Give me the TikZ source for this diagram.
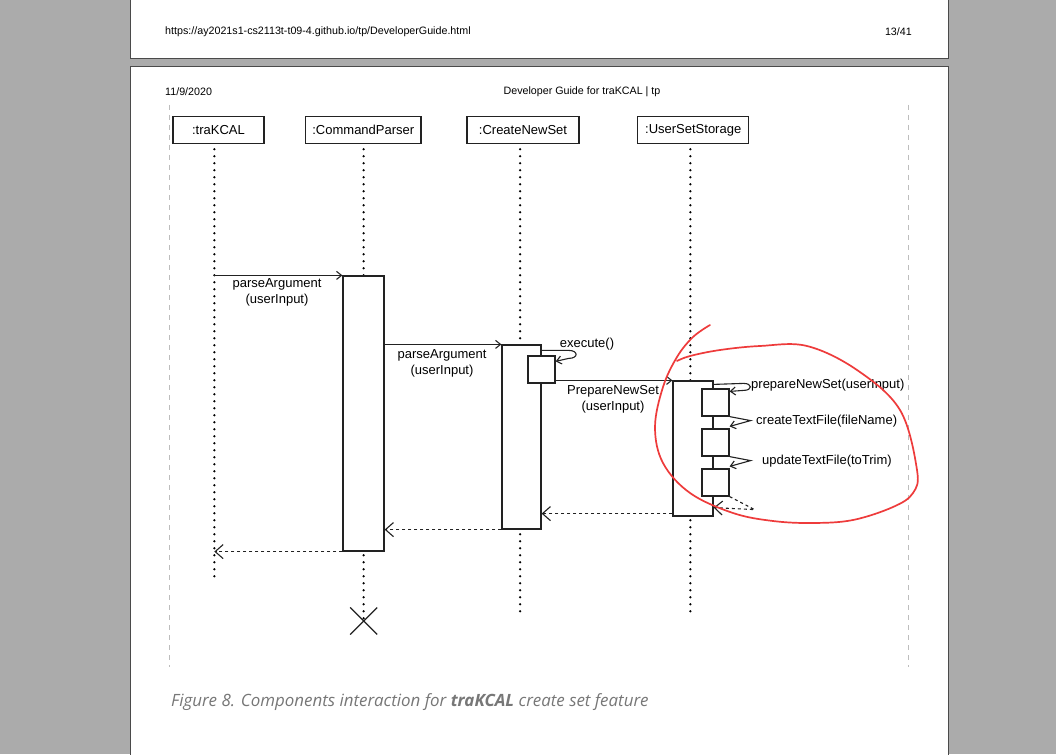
\documentclass[tikz,border=0pt]{standalone}
\usepackage{fontspec}
\setmainfont{Liberation Sans}
\newfontfamily\capfont{Open Sans}
\usetikzlibrary{arrows.meta,calc}
\definecolor{bggray}{HTML}{ABABAB}
\definecolor{edgegray}{HTML}{4A4A4A}
\definecolor{guidegray}{HTML}{BDBDBD}
\definecolor{pen}{HTML}{EE3B3B}
\definecolor{capgray}{HTML}{777777}
\definecolor{ink}{HTML}{222222}
\tikzset{
  head/.style={draw=ink, line width=1.5pt, fill=white, inner sep=0pt, font=\fontsize{13}{16}\selectfont},
  act/.style={draw=ink, line width=1.2pt, fill=white, inner sep=0pt},
  life/.style={draw=black, line width=2.5pt, line cap=round, dash pattern=on 0pt off 7pt},
  msg/.style={draw=ink, line width=1.1pt, -{Straight Barb[length=5pt,width=8pt]}},
  ret/.style={draw=ink, line width=1.1pt, dash pattern=on 3pt off 3pt, -{Straight Barb[length=8pt,width=14pt]}},
  lbl/.style={inner sep=0pt, font=\fontsize{13}{16}\selectfont, align=center},
  guide/.style={draw=guidegray, line width=1pt, dash pattern=on 5pt off 5pt},
  hdr/.style={inner sep=0pt, font=\fontsize{10.7}{12}\selectfont}
}
\begin{document}
\begin{tikzpicture}[x=1pt,y=-1pt]
\useasboundingbox (0,0) rectangle (1056,754);
\fill[bggray] (0,0) rectangle (1056,754);
% pages
\draw[edgegray, line width=1pt, fill=white] (130,-5) rectangle (948,59);
\draw[edgegray, line width=1pt, fill=white] (130,67) rectangle (948,760);
% headers
\node[hdr, anchor=west] (url) at (165,32) {https://ay2021s1-cs2113t-t09-4.github.io/tp/DeveloperGuide.html};
\node[hdr, anchor=east] (pg) at (912,32) {13/41};
\node[hdr, anchor=west] (date) at (165,92) {11/9/2020};
\node[hdr] (title) at (582,92) {Developer Guide for traKCAL | tp};
% frame guides
\coordinate (gl1) at (169,105); \coordinate (gl2) at (169,667);
\coordinate (gr1) at (908,105); \coordinate (gr2) at (908,667);
\draw[guide] (gl1) -- (gl2);
\draw[guide] (gr1) -- (gr2);
% lifeline ends
\coordinate (tkend) at (214.3,582);
\coordinate (cpend) at (363.7,621);
\coordinate (cnend) at (520,617);
\coordinate (usend) at (690.3,617);
% heads
\node[head, minimum width=91pt, minimum height=27pt] (tk) at (218.5,130) {:traKCAL};
\node[head, minimum width=115.5pt, minimum height=27pt] (cp) at (363.3,130) {:CommandParser};
\node[head, minimum width=112pt, minimum height=27pt] (cn) at (523,130) {:CreateNewSet};
\node[head, minimum width=111pt, minimum height=27pt] (us) at (693.2,130) {:UserSetStorage};
% lifelines
\draw[life] ([yshift=-5pt]tk.south -| tkend) -- (tkend);
\draw[life] ([yshift=-5pt]cp.south -| cpend) -- (cpend);
\draw[life] ([yshift=-5pt]cn.south -| cnend) -- (cnend);
\draw[life] ([yshift=-5pt]us.south -| usend) -- (usend);
% destroy mark
\draw[ink, line width=1.3pt] ($(cpend)+(-13.5,-13.5)$) -- ($(cpend)+(13.5,13.5)$);
\draw[ink, line width=1.3pt] ($(cpend)+(-13.5,13.5)$) -- ($(cpend)+(13.5,-13.5)$);
% activations
\node[act, minimum width=41pt, minimum height=275pt] (cpA) at (363.5,413.5) {};
\node[act, minimum width=39pt, minimum height=184pt] (cnA) at (521.5,437) {};
\node[act, minimum width=27pt, minimum height=27pt] (ex) at (541.5,369.5) {};
\node[act, minimum width=40pt, minimum height=135pt] (usA) at (693,448.5) {};
\node[act, minimum width=27pt, minimum height=27pt] (b1) at (715.5,402.5) {};
\node[act, minimum width=27pt, minimum height=27pt] (b2) at (715.5,442.5) {};
\node[act, minimum width=27pt, minimum height=27pt] (b3) at (715.5,482.5) {};
% messages
\draw[msg] (cpA.north west -| tkend) -- (cpA.north west);
\node[lbl] (l1) at (277,292) {parseArgument\\(userInput)};
\draw[msg] (cpA.east |- cnA.north) -- (cnA.north west);
\node[lbl] (l2) at (442,363) {parseArgument\\(userInput)};
\draw[msg] ([yshift=-6pt]cnA.north east) -- ++(27,0) .. controls +(10,0) and +(10,0) .. ++(0,8) -- ([yshift=-6pt]ex.north east);
\node[lbl] (l3) at (587,344) {execute()};
\draw[msg] (ex.south east |- usA.north) -- (usA.north west);
\node[lbl] (l4) at (613,399) {PrepareNewSet\\(userInput)};
\draw[msg] ([yshift=-4pt]usA.north east) -- ++(30,-1) .. controls +(9,0) and +(9,0) .. ++(0,7) -- ([yshift=-3pt]b1.north east);
\node[lbl, anchor=west] (l5) at (751,385) {prepareNewSet(userInput)};
\draw[msg] (b1.south east) -- ++(21,4) -- ([yshift=2pt]b2.north east);
\node[lbl, anchor=west] (l6) at (756,421) {createTextFile(fileName)};
\draw[msg] (b2.south east) -- ++(21,4) -- ([yshift=2pt]b3.north east);
\node[lbl, anchor=west] (l7) at (762,461) {updateTextFile(toTrim)};
% returns
\draw[ret] (b3.south east) -- ++(25,13) -- ([yshift=9pt]usA.south east);
\draw[ret] ([yshift=3pt]usA.south west) -- ([yshift=3pt]usA.south west -| cnA.east);
\draw[ret] (cnA.south west) -- (cnA.south west -| cpA.east);
\draw[ret] (cpA.south west) -- (cpA.south west -| tkend);
% red annotation
\draw[pen, line width=1.7pt, line cap=round, line join=round] plot[smooth, tension=0.6] coordinates {
 (710,325) (693,337) (677,357) (663,387) (655,427) (663,463) (690,493) (733,513) (773,521) (813,523) (853,520) (893,507) (913,493) (917,470) (900,410) (857,370) (807,346) (760,346) (720,350) (690,356) (677,361)};
% caption
\node[inner sep=0pt, anchor=west, text=capgray, font=\capfont\itshape\fontsize{16.9}{20}\selectfont] (cap) at (171,702) {Figure 8. Components interaction for \textbf{traKCAL} create set feature};
\end{tikzpicture}
\end{document}
